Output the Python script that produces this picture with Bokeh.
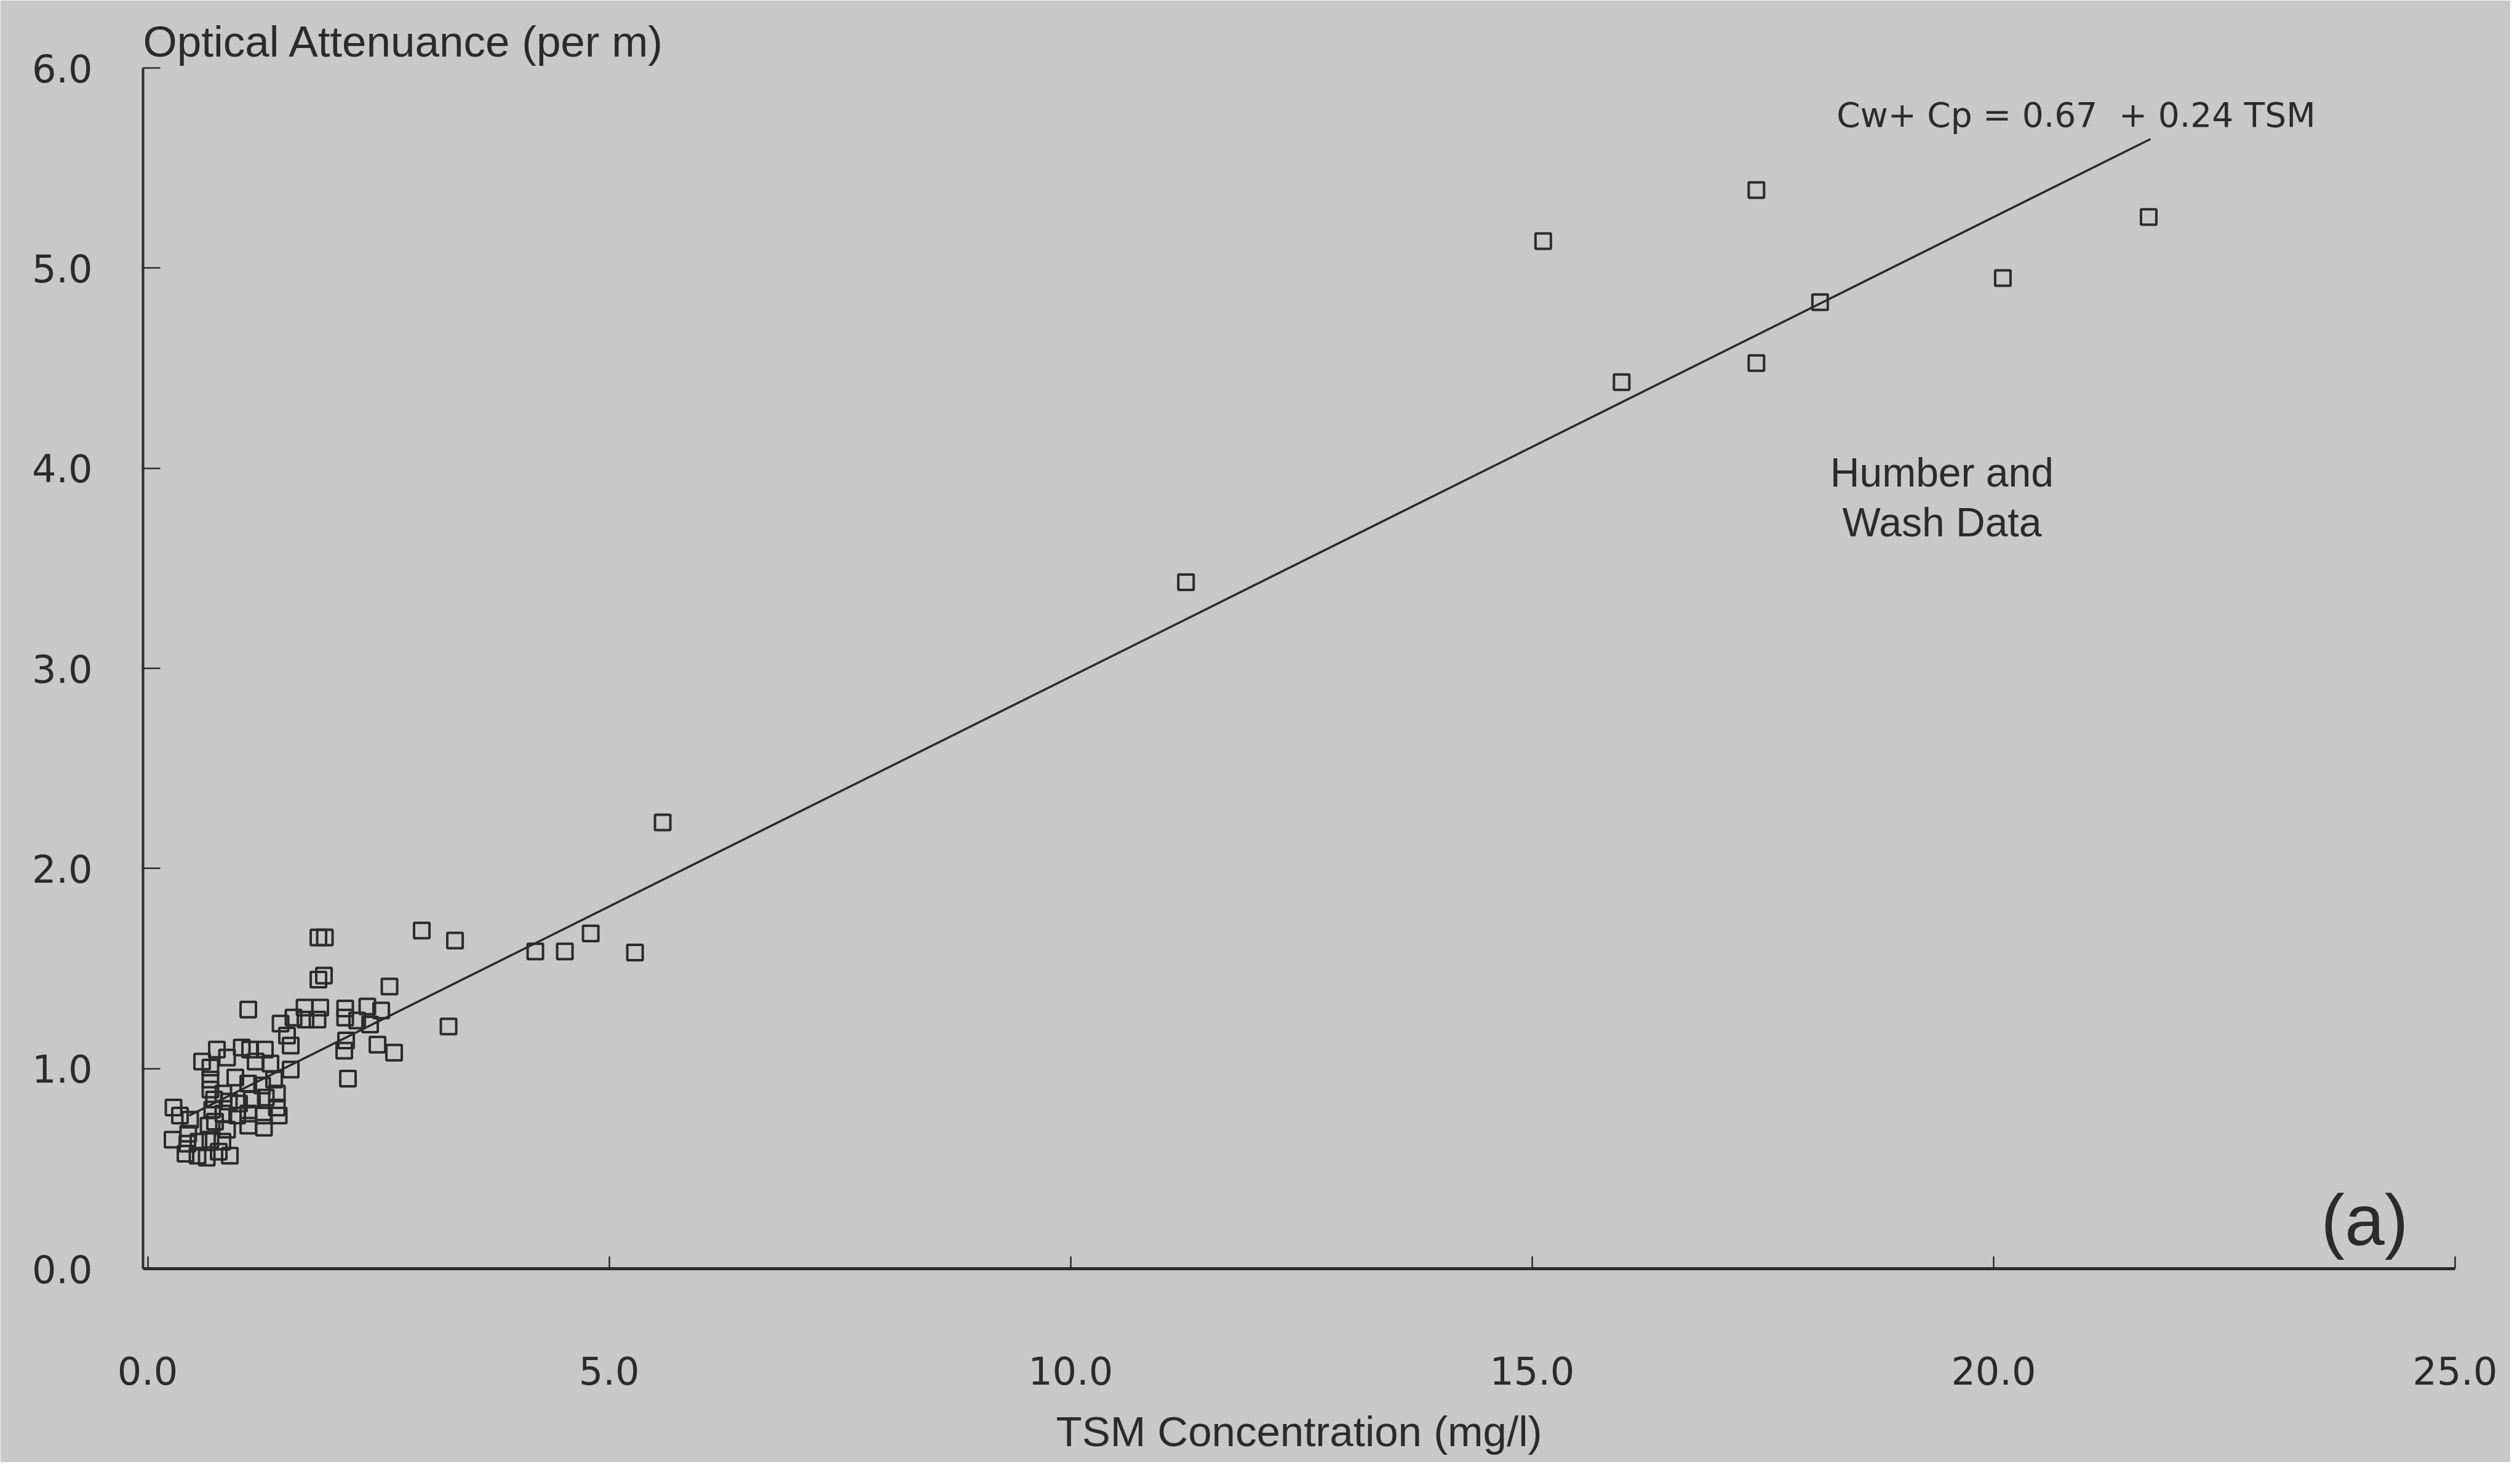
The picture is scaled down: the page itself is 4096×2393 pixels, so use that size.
from bokeh.plotting import figure
from bokeh.models import Range1d, FixedTicker, NumeralTickFormatter, Label, ColumnDataSource
from bokeh.embed import file_html
from bokeh.resources import INLINE

# ---- data ----
tsm = [
    # row near 1.3
    1.09, 1.70, 1.87, 2.14, 2.38, 2.53,
    1.44, 1.58, 1.71, 1.84, 2.14, 2.27, 2.41,
    # upper group near 1.5-1.7
    1.85, 1.92, 1.91, 1.85, 2.97, 3.33, 2.62,
    # lower right of cluster
    2.15, 2.13, 2.49, 2.67, 2.17, 3.26,
    # mid points
    4.20, 4.52, 4.80, 5.28, 5.58,
    # high points
    11.25, 15.12, 15.97, 17.43, 17.43, 18.12, 20.10, 21.68,
    # dense cluster
    1.51, 1.55, 1.55, 0.75, 0.59, 0.68, 1.02, 1.11, 1.27, 1.17, 1.33,
    0.95, 0.86, 1.37, 0.68, 0.68, 1.09, 1.24, 1.40, 0.82, 0.99, 0.88,
    1.13, 1.28, 1.40, 1.42, 1.26, 1.09, 0.97, 0.82, 0.70, 0.28, 0.35,
    0.46, 0.66, 0.86, 1.09, 1.26, 0.44, 0.27, 0.55, 0.68, 0.43, 0.54,
    0.64, 0.77, 0.89, 0.41, 0.81, 0.72, 0.73,
]
atten = [
    1.295, 1.305, 1.305, 1.30, 1.31, 1.29,
    1.225, 1.255, 1.245, 1.245, 1.255, 1.24, 1.22,
    1.655, 1.655, 1.465, 1.445, 1.69, 1.64, 1.41,
    1.14, 1.09, 1.12, 1.08, 0.95, 1.21,
    1.585, 1.585, 1.675, 1.58, 2.23,
    3.43, 5.135, 4.43, 5.39, 4.525, 4.83, 4.95, 5.255,
    1.165, 1.115, 0.995, 1.095, 1.035, 1.005, 1.105, 1.095, 1.095, 1.035, 1.025,
    0.955, 1.055, 0.945, 0.945, 0.895, 0.925, 0.915, 0.875, 0.875, 0.825, 0.835,
    0.845, 0.855, 0.805, 0.765, 0.765, 0.775, 0.765, 0.775, 0.795, 0.805, 0.765,
    0.745, 0.715, 0.695, 0.715, 0.705, 0.675, 0.645, 0.635, 0.645, 0.625, 0.565,
    0.555, 0.585, 0.565, 0.575, 0.635, 0.845, 0.735,
]

fit_tsm = [0.45, 21.70]
fit_atten = [0.765, 5.645]

x_ticks = [0, 5, 10, 15, 20, 25]
y_ticks = [0, 1, 2, 3, 4, 5, 6]

x_title = "TSM Concentration (mg/l)"
y_title = "Optical Attenuance (per m)"
equation = "Cw+ Cp = 0.67\u00a0 + 0.24 TSM"
note_1 = "Humber and"
note_2 = "Wash Data"
panel = "(a)"

BG = "#c8c8c8"
INK = "#2b2b2b"

p = figure(width=4080, height=2377, x_range=Range1d(-0.05, 25), y_range=Range1d(0, 6),
           output_backend="svg", toolbar_location=None,
           min_border_left=232, min_border_right=90, min_border_top=110, min_border_bottom=315)
p.background_fill_color = BG
p.border_fill_color = BG
p.outline_line_color = BG
p.outline_line_width = 3
p.xgrid.visible = False
p.ygrid.visible = False

# y-axis title sits horizontally above the frame
p.title.text = y_title
p.title.align = "left"
p.title.text_font = "Liberation Sans"
p.title.text_font_size = "71px"
p.title.text_font_style = "normal"
p.title.text_color = INK
p.title.standoff = 7

src = ColumnDataSource(dict(x=tsm, y=atten))
p.scatter("x", "y", source=src, marker="square", size=25, fill_color=None,
          line_color=INK, line_width=4)
p.line(fit_tsm, fit_atten, line_color=INK, line_width=3.5)

# x axis
xa = p.xaxis[0]
xa.ticker = FixedTicker(ticks=x_ticks)
xa.formatter = NumeralTickFormatter(format="0.0")
xa.axis_line_color = INK
xa.axis_line_width = 5
xa.major_tick_line_color = INK
xa.major_tick_line_width = 2.5
xa.major_tick_in = 20
xa.major_tick_out = 0
xa.minor_tick_line_color = None
xa.major_label_standoff = 142
xa.major_label_text_font = "DejaVu Sans"
xa.major_label_text_font_size = "62px"
xa.major_label_text_color = INK
xa.axis_label = x_title
xa.axis_label_text_font = "Liberation Sans"
xa.axis_label_text_font_size = "69px"
xa.axis_label_text_font_style = "normal"
xa.axis_label_text_color = INK
xa.axis_label_standoff = 35

# y axis
ya = p.yaxis[0]
ya.ticker = FixedTicker(ticks=y_ticks)
ya.formatter = NumeralTickFormatter(format="0.0")
ya.axis_line_color = INK
ya.axis_line_width = 4
ya.major_tick_line_color = INK
ya.major_tick_line_width = 2.5
ya.major_tick_in = 28
ya.major_tick_out = 0
ya.minor_tick_line_color = None
ya.major_label_standoff = 82
ya.major_label_text_font = "DejaVu Sans"
ya.major_label_text_font_size = "62px"
ya.major_label_text_color = INK

# texts inside the frame
p.add_layout(Label(x=18.30, y=5.765, text=equation, text_font="DejaVu Sans",
                   text_font_size="55px", text_color=INK, text_align="left",
                   text_baseline="alphabetic"))
p.add_layout(Label(x=19.44, y=3.98, text=note_1, text_font="Liberation Sans",
                   text_font_size="66px", text_color=INK, text_align="center",
                   text_baseline="alphabetic"))
p.add_layout(Label(x=19.44, y=3.73, text=note_2, text_font="Liberation Sans",
                   text_font_size="66px", text_color=INK, text_align="center",
                   text_baseline="alphabetic"))
p.add_layout(Label(x=24.02, y=0.24, text=panel, text_font="Liberation Sans",
                   text_font_size="116px", text_color=INK, text_align="center",
                   text_baseline="alphabetic"))

open("out.html", "w").write(file_html(p, INLINE))
